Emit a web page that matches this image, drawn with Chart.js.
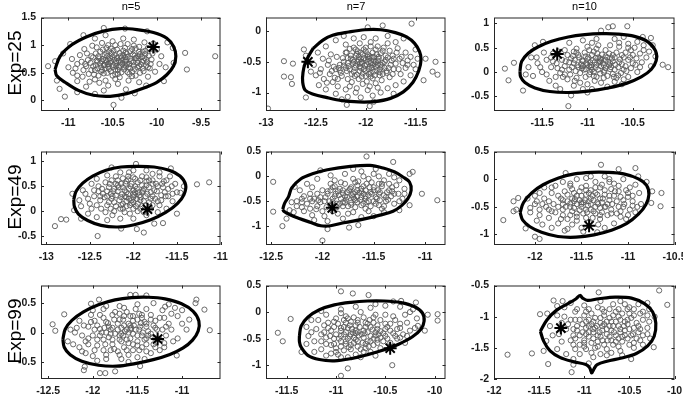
<!DOCTYPE html>
<html><head><meta charset="utf-8">
<script src="https://cdn.jsdelivr.net/npm/chart.js@4.4.1/dist/chart.umd.min.js"></script>
<style>
html,body{margin:0;padding:0;background:#fff;}
#wrap{position:relative;width:685px;height:394px;overflow:hidden;background:#fff;}
canvas{position:absolute;}
.title{position:absolute;font:11px 'Liberation Sans Narrow','Liberation Sans',Arial,sans-serif;color:#000;transform:translateX(-50%);white-space:nowrap;line-height:1;}
.rowlab{position:absolute;font:19px 'Liberation Sans',Arial,sans-serif;color:#000;white-space:nowrap;line-height:1;transform:translate(-50%,-50%) rotate(-90deg);}
</style></head><body><div id="wrap"></div>
<script>
const colTitles = ['n=5', 'n=7', 'n=10'];
const rowTitles = ['Exp=25', 'Exp=49', 'Exp=99'];

const xLimits = [[-11.31,-9.28],[-13,-11.2],[-12.03,-10.04],[-13.06,-11],[-12.55,-10.8],[-12.44,-10.5],[-12.58,-10.57],[-11.71,-9.89],[-12,-10]];
const yLimits = [[-0.19,1.5],[-1.3,0.22],[-0.8,1.12],[-0.68,1.2],[-1.38,0.5],[-1.19,0.5],[-0.79,0.8],[-1.26,0.5],[-2,-0.5]];
const xTicks = [[-11,-10.5,-10,-9.5],[-13,-12.5,-12,-11.5],[-11.5,-11,-10.5],[-13,-12.5,-12,-11.5,-11],[-12.5,-12,-11.5,-11],[-12,-11.5,-11,-10.5],[-12.5,-12,-11.5,-11],[-11.5,-11,-10.5,-10],[-12,-11.5,-11,-10.5,-10]];
const yTicks = [[0,0.5,1,1.5],[-1,-0.5,0],[-0.5,0,0.5,1],[-0.5,0,0.5,1],[-1,-0.5,0,0.5],[-1,-0.5,0,0.5],[-0.5,0,0.5],[-1,-0.5,0,0.5],[-2,-1.5,-1,-0.5]];

// ---- Exp=25, n=5 ----
const cloud_e25_n5 = [[-10.62,0.71],[-10.55,0.66],[-10.48,0.74],[-10.41,0.69],[-10.35,0.62],[-10.58,0.58],[-10.66,0.8],[-10.51,0.85],[-10.44,0.55],[-10.3,0.75],[-10.22,0.68],[-10.17,0.79],[-10.12,0.63],[-10.25,0.57],[-10.38,0.82],[-10.69,0.64],[-10.74,0.55],[-10.6,0.49],[-10.47,0.47],[-10.33,0.51],[-10.2,0.88],[-10.28,0.93],[-10.45,0.92],[-10.57,0.95],[-10.64,0.88],[-10.78,0.73],[-10.8,0.62],[-10.53,0.76],[-10.42,0.63],[-10.36,0.7],[-10.15,0.72],[-10.09,0.81],[-10.08,0.58],[-10.19,0.5],[-10.5,0.6],[-10.71,0.47],[-10.56,0.8],[-10.27,0.83],[-10.4,0.77],[-10.63,0.6],[-10.31,0.66],[-10.13,0.9],[-10.23,0.76],[-10.46,0.68],[-10.68,0.72],[-10.6,0.64],[-10.35,0.87],[-10.52,0.53],[-10.42,0.42],[-10.24,0.45],
[-10.9,0.66],[-10.95,0.5],[-10.87,0.82],[-10.84,0.43],[-10.9,0.35],[-10.76,0.34],[-10.65,0.32],[-10.55,0.27],[-10.44,0.3],[-10.32,0.36],[-10.2,0.33],[-10.1,0.43],[-10.02,0.52],[-9.97,0.66],[-9.95,0.8],[-10.0,0.92],[-10.04,1.03],[-10.14,1.05],[-10.26,1.1],[-10.38,1.12],[-10.5,1.07],[-10.62,1.04],[-10.73,0.99],[-10.82,0.93],[-10.96,0.75],[-11.0,0.6],[-10.7,1.12],[-10.58,1.18],[-10.33,1.02],[-10.47,1.0],[-10.8,0.25],[-10.35,0.2],[-10.6,0.18],[-10.12,0.27],[-9.9,0.6],
[-11.23,0.62],[-11.15,0.71],[-11.13,0.36],[-11.1,0.21],[-11.04,0.07],[-10.49,-0.08],[-9.68,0.86],[-9.66,0.56],[-9.34,0.8],[-9.81,0.68],[-10.6,1.31],[-10.36,1.3],[-10.11,1.25],[-10.83,1.18],[-9.88,1.05],[-10.9,0.15],[-10.7,0.12],[-10.25,0.13],[-9.92,0.35],[-11.06,0.85],[-10.98,1.02],[-10.4,0.05],[-9.82,0.95],
[-10.61,0.75],[-10.57,0.69],[-10.52,0.71],[-10.45,0.77],[-10.39,0.73],[-10.33,0.79],[-10.29,0.71],[-10.26,0.63],[-10.21,0.72],[-10.18,0.65],[-10.14,0.77],[-10.11,0.69],[-10.06,0.74],[-10.07,0.66],[-10.16,0.58],[-10.22,0.6],[-10.3,0.58],[-10.37,0.56],[-10.43,0.6],[-10.49,0.64],[-10.55,0.61],[-10.62,0.55],[-10.67,0.58],[-10.72,0.62],[-10.75,0.68],[-10.72,0.78],[-10.69,0.85],[-10.61,0.92],[-10.54,0.89],[-10.48,0.82],[-10.42,0.86],[-10.36,0.95],[-10.3,0.89],[-10.24,0.94],[-10.19,0.84],[-10.25,0.81],[-10.34,0.66],[-10.4,0.51],[-10.5,0.45],[-10.56,0.5],[-10.66,0.45],[-10.77,0.48],[-10.83,0.55],[-10.85,0.7],[-10.79,0.85],[-10.92,0.58],[-10.58,0.36],[-10.47,0.39],[-10.28,0.44],[-10.15,0.53],[-10.1,0.95],[-10.41,1.02],[-10.55,1.0],[-10.68,0.96],[-10.9,0.45],[-10.7,0.38],[-10.37,0.6],[-10.46,0.71],[-10.59,0.82],[-10.2,0.97],
[-10.58,0.73],[-10.53,0.68],[-10.5,0.79],[-10.46,0.62],[-10.43,0.72],[-10.39,0.66],[-10.36,0.78],[-10.32,0.6],[-10.27,0.69],[-10.24,0.77],[-10.2,0.62],[-10.17,0.7],[-10.13,0.84],[-10.1,0.6],[-10.12,0.74],[-10.21,0.8],[-10.28,0.52],[-10.34,0.84],[-10.41,0.8],[-10.47,0.56],[-10.54,0.57],[-10.59,0.64],[-10.64,0.67],[-10.65,0.76],[-10.57,0.85],[-10.49,0.9],[-10.44,0.48],[-10.38,0.9],[-10.31,0.48],[-10.16,0.88],[-10.7,0.55],[-10.74,0.8],[-10.81,0.66],[-10.63,0.52],[-10.52,0.94],[-10.26,0.99],[-10.05,0.85],[-10.35,0.73],[-10.55,0.74],[-10.67,0.7]];
const contour_e25_n5 = [[-11.151,0.565],[-11.094,0.8],[-10.962,1.006],[-10.792,1.153],[-10.604,1.253],[-10.415,1.3],[-10.226,1.282],[-10.038,1.229],[-9.887,1.124],[-9.811,0.976],[-9.785,0.8],[-9.811,0.624],[-9.887,0.465],[-10.0,0.329],[-10.151,0.224],[-10.34,0.124],[-10.528,0.076],[-10.717,0.094],[-10.887,0.182],[-11.038,0.329],[-11.132,0.447]];
const star_e25_n5 = [[-10.04,0.965]];

// ---- Exp=25, n=7 ----
const cloud_e25_n7 = [[-11.98,-0.5],[-12.05,-0.45],[-11.92,-0.42],[-11.88,-0.55],[-12.1,-0.56],[-12.02,-0.62],[-11.95,-0.68],[-12.15,-0.4],[-12.08,-0.33],[-11.85,-0.36],[-11.8,-0.47],[-11.77,-0.6],[-11.83,-0.7],[-12.0,-0.73],[-12.12,-0.66],[-12.18,-0.52],[-12.2,-0.6],[-11.9,-0.3],[-12.0,-0.27],[-11.96,-0.58],[-12.04,-0.53],[-11.86,-0.62],[-12.13,-0.47],[-11.93,-0.77],[-12.07,-0.78],[-11.73,-0.4],[-11.7,-0.53],[-12.23,-0.44],[-12.25,-0.68],[-11.9,-0.85],[-12.03,-0.38],[-11.82,-0.27],[-12.16,-0.29],[-11.76,-0.75],[-11.97,-0.45],[-12.09,-0.71],[-11.99,-0.82],[-12.14,-0.83],[-11.88,-0.48],[-12.06,-0.58],
[-12.3,-0.62],[-12.36,-0.7],[-12.42,-0.78],[-12.33,-0.83],[-12.28,-0.9],[-12.45,-0.62],[-12.5,-0.72],[-12.38,-0.55],[-12.47,-0.88],[-12.4,-0.95],[-12.31,-0.76],[-12.26,-0.55],[-12.52,-0.55],[-12.55,-0.66],[-12.43,-0.45],[-12.35,-0.38],[-12.48,-0.35],[-12.4,-0.25],
[-12.3,-0.15],[-12.22,-0.08],[-12.12,-0.12],[-12.02,-0.1],[-11.9,-0.12],[-11.78,-0.08],[-11.7,-0.18],[-11.62,-0.12],[-12.2,-0.22],[-11.95,-0.18],[-11.68,-0.28],[-12.06,-0.2],
[-11.6,-0.35],[-11.55,-0.42],[-11.52,-0.55],[-11.6,-0.6],[-11.65,-0.7],[-11.5,-0.3],[-11.58,-0.48],[-11.63,-0.52],[-11.48,-0.45],[-11.55,-0.72],[-11.62,-0.82],[-11.7,-0.88],[-11.66,-0.45],[-11.5,-0.62],
[-12.2,-0.95],[-12.1,-1.0],[-11.98,-0.96],[-11.85,-1.0],[-11.78,-0.93],[-12.3,-1.02],[-11.93,-1.05],[-12.05,-1.08],[-11.72,-1.02],[-12.18,-1.07],
[-12.98,-1.26],[-12.82,-0.49],[-12.73,-0.53],[-12.82,-0.74],[-12.75,-0.75],[-12.74,-0.86],[-12.6,-1.08],[-11.98,0.06],[-11.83,0.09],[-11.54,0.12],[-11.4,-0.45],[-11.3,-0.5],[-11.33,-0.66],[-11.28,-0.71],[-11.42,-0.8],[-12.19,-1.2],[-11.96,-1.22],[-11.92,-1.15],[-12.24,-1.11],[-12.62,-0.3],[-12.6,-0.4],
[-11.95,-0.52],[-12.0,-0.47],[-12.04,-0.5],[-11.92,-0.48],[-11.9,-0.58],[-11.97,-0.62],[-12.06,-0.65],[-12.11,-0.6],[-12.17,-0.57],[-12.15,-0.45],[-12.1,-0.4],[-12.05,-0.35],[-11.98,-0.38],[-11.93,-0.35],[-11.87,-0.42],[-11.83,-0.52],[-11.81,-0.6],[-11.86,-0.67],[-11.91,-0.72],[-12.03,-0.69],[-12.08,-0.5],[-12.01,-0.56],[-11.94,-0.43],[-11.89,-0.64],[-12.19,-0.65],[-12.22,-0.5],[-12.27,-0.6],[-12.24,-0.73],[-12.18,-0.78],[-12.11,-0.73],[-11.8,-0.4],[-11.76,-0.32],[-11.74,-0.48],[-11.72,-0.62],[-11.79,-0.68],[-12.02,-0.3],[-11.95,-0.25],[-12.12,-0.27],[-11.84,-0.8],[-12.03,-0.86],[-11.96,-0.9],[-12.16,-0.9],[-12.34,-0.65],[-12.37,-0.48],[-12.29,-0.42],[-11.69,-0.35],[-11.64,-0.42],[-11.67,-0.62],[-12.46,-0.68],[-12.39,-0.84],[-11.88,-0.92],[-12.2,-0.35],[-11.78,-0.2],[-12.09,-0.93],[-11.58,-0.55],[-11.93,-0.55],[-12.07,-0.42],[-11.85,-0.55],
[-11.99,-0.54],[-11.96,-0.41],[-12.02,-0.44],[-12.07,-0.47],[-11.91,-0.53],[-11.94,-0.6],[-12.0,-0.65],[-12.05,-0.6],[-12.13,-0.53],[-12.16,-0.62],[-11.87,-0.45],[-11.84,-0.58],[-11.89,-0.38],[-12.0,-0.33],[-12.09,-0.37],[-12.18,-0.44],[-11.81,-0.5],[-11.78,-0.43],[-11.75,-0.55],[-12.22,-0.56],[-12.14,-0.7],[-12.04,-0.74],[-11.95,-0.74],[-11.86,-0.72],[-11.79,-0.65],[-11.92,-0.66],[-12.1,-0.3],[-11.88,-0.25],[-12.26,-0.64],[-12.32,-0.58],[-11.72,-0.45],[-11.98,-0.42],[-12.06,-0.53],[-11.97,-0.7],[-12.19,-0.35],[-11.83,-0.32],[-12.28,-0.78],[-11.73,-0.7],[-12.12,-0.5],[-11.9,-0.5]];
const contour_e25_n7 = [[-12.526,-0.279],[-12.429,-0.147],[-12.332,-0.068],[-12.171,-0.016],[-12.01,0.021],[-11.848,0.021],[-11.703,-0.026],[-11.59,-0.095],[-11.51,-0.2],[-11.461,-0.332],[-11.445,-0.463],[-11.468,-0.647],[-11.526,-0.832],[-11.623,-0.989],[-11.752,-1.095],[-11.913,-1.147],[-12.074,-1.153],[-12.235,-1.132],[-12.397,-1.079],[-12.526,-1.026],[-12.606,-0.963],[-12.632,-0.832],[-12.629,-0.674],[-12.606,-0.516],[-12.565,-0.384]];
const star_e25_n7 = [[-12.58,-0.5]];

// ---- Exp=25, n=10 ----
const cloud_e25_n10 = [[-11.0,0.15],[-10.92,0.2],[-10.85,0.12],[-10.95,0.05],[-11.05,0.22],[-11.1,0.1],[-10.8,0.25],[-10.75,0.18],[-10.88,0.3],[-11.02,0.32],[-11.15,0.18],[-11.2,0.05],[-10.98,-0.05],[-10.9,-0.1],[-10.7,0.05],[-10.65,0.2],[-10.6,0.3],[-10.72,0.35],[-11.08,-0.02],[-11.18,0.28],[-11.25,0.12],[-10.82,0.0],[-10.78,-0.08],[-11.12,-0.12],[-11.03,0.4],[-10.93,0.42],[-10.68,0.4],[-10.55,0.25],[-10.58,0.12],[-10.63,-0.02],[-11.28,0.25],[-11.3,-0.02],[-11.22,-0.15],[-10.96,0.1],[-10.86,0.22],[-11.06,0.08],[-10.74,0.1],[-10.68,-0.12],[-10.5,0.35],[-10.52,0.08],
[-11.4,0.1],[-11.45,0.25],[-11.38,0.38],[-11.5,0.0],[-11.55,0.18],[-11.6,-0.08],[-11.42,-0.18],[-11.35,-0.28],[-11.15,-0.28],[-11.0,-0.25],[-10.85,-0.22],[-10.7,-0.2],[-10.55,-0.1],[-10.45,0.0],[-10.4,0.2],[-10.42,0.38],[-10.48,0.5],[-10.55,0.58],[-10.65,0.52],[-10.75,0.55],[-10.88,0.55],[-11.0,0.52],[-11.12,0.48],[-11.25,0.45],[-11.2,0.6],[-11.05,0.65],[-10.9,0.68],[-10.7,0.68],[-10.6,0.72],[-10.38,0.55],[-10.32,0.42],[-10.35,0.3],[-10.3,0.12],[-11.48,0.4],[-11.62,0.3],[-11.65,0.1],[-11.3,-0.35],[-11.05,-0.35],[-10.95,-0.35],[-10.62,-0.25],
[-11.91,0.07],[-11.87,-0.17],[-11.81,0.19],[-11.71,-0.38],[-11.18,-0.48],[-11.21,-0.7],[-10.77,0.92],[-10.72,0.94],[-10.56,0.94],[-10.85,0.85],[-10.39,0.72],[-10.3,0.7],[-10.17,0.15],[-10.11,0.1],[-11.58,0.55],[-11.49,0.62],[-11.68,-0.05],[-10.25,0.32],[-10.28,0.55],[-11.0,-0.42],
[-10.98,0.12],[-10.9,0.15],[-10.83,0.18],[-10.94,0.24],[-11.0,0.27],[-11.07,0.16],[-11.04,0.05],[-10.97,0.0],[-10.88,0.05],[-10.8,0.08],[-10.76,0.14],[-10.72,0.22],[-10.78,0.3],[-10.84,0.36],[-10.95,0.35],[-11.1,0.35],[-11.14,0.25],[-11.17,0.1],[-11.13,0.02],[-11.02,-0.1],[-10.92,-0.18],[-10.82,-0.12],[-10.72,-0.04],[-10.66,0.1],[-10.62,0.16],[-10.58,0.4],[-10.52,0.45],[-10.46,0.28],[-10.5,0.18],[-10.6,0.05],[-11.22,0.35],[-11.28,0.05],[-11.34,0.18],[-11.4,0.3],[-11.32,0.42],[-11.25,-0.05],[-11.35,-0.1],[-11.45,-0.05],[-11.52,0.1],[-11.56,0.3],[-10.9,0.48],[-10.8,0.45],[-10.65,0.6],[-10.45,0.62],[-10.42,0.1],[-10.38,0.45],[-11.08,-0.22],[-10.78,-0.3],[-10.6,-0.15],[-11.15,0.42],[-10.86,0.28],[-11.05,0.12],[-10.7,0.3],[-11.2,0.2],[-10.55,0.5],[-10.95,0.6],
[-11.01,0.18],[-10.96,0.14],[-10.91,0.09],[-10.87,0.2],[-10.82,0.14],[-10.77,0.21],[-10.73,0.28],[-10.81,0.03],[-10.86,-0.03],[-10.93,0.0],[-11.02,0.06],[-11.06,0.24],[-11.11,0.14],[-10.99,0.3],[-10.91,0.29],[-10.85,0.25],[-10.75,0.06],[-10.69,0.15],[-10.64,0.26],[-10.71,-0.1],[-10.97,0.2],[-11.09,0.3],[-11.16,0.33],[-11.24,0.22],[-11.19,-0.05],[-11.27,-0.1],[-10.76,0.38],[-10.62,0.35],[-10.53,0.3],[-10.47,0.15],[-10.57,0.02],[-10.66,-0.07],[-11.12,0.4],[-10.98,0.45],[-10.89,0.38],[-10.8,0.32],[-11.33,0.08],[-11.38,0.22],[-10.93,-0.08],[-11.14,-0.18]];
const contour_e25_n10 = [[-11.744,0.02],[-11.725,0.22],[-11.652,0.387],[-11.542,0.52],[-11.396,0.633],[-11.212,0.72],[-11.029,0.767],[-10.846,0.787],[-10.663,0.78],[-10.48,0.733],[-10.333,0.62],[-10.249,0.433],[-10.242,0.233],[-10.297,0.053],[-10.407,-0.1],[-10.571,-0.233],[-10.773,-0.327],[-10.993,-0.393],[-11.212,-0.42],[-11.414,-0.4],[-11.579,-0.327],[-11.689,-0.213],[-11.736,-0.1]];
const star_e25_n10 = [[-11.333,0.373]];

// ---- Exp=49, n=5 ----
const cloud_e49_n5 = [[-12.1,0.3],[-12.0,0.35],[-11.92,0.28],[-12.05,0.45],[-12.18,0.4],[-12.25,0.25],[-11.88,0.45],[-11.8,0.38],[-11.75,0.25],[-11.95,0.15],[-12.12,0.15],[-12.3,0.12],[-12.2,0.55],[-12.08,0.6],[-11.95,0.58],[-11.85,0.6],[-11.72,0.5],[-11.68,0.32],[-12.35,0.35],[-12.28,0.48],[-12.15,0.05],[-12.0,0.05],[-11.9,0.1],[-12.02,0.22],[-11.98,0.5],[-12.14,0.28],[-11.82,0.18],[-11.7,0.12],[-12.38,0.22],[-12.25,0.62],[-12.4,0.5],[-11.65,0.6],[-11.6,0.45],[-12.06,0.7],[-11.9,0.7],[-12.22,0.0],[-12.32,-0.02],[-11.78,0.62],[-12.45,0.3],[-12.04,-0.05],
[-12.5,0.15],[-12.55,0.35],[-12.48,0.55],[-12.6,0.1],[-12.52,-0.05],[-12.42,-0.12],[-12.3,-0.18],[-12.15,-0.15],[-12.0,-0.15],[-11.85,-0.08],[-11.72,-0.02],[-11.62,0.05],[-11.55,0.2],[-11.5,0.38],[-11.52,0.55],[-11.58,0.7],[-11.7,0.78],[-11.85,0.82],[-12.0,0.82],[-12.15,0.78],[-12.3,0.72],[-12.42,0.65],[-12.58,0.42],[-12.62,0.22],[-11.6,0.3],[-11.78,0.75],
[-12.9,-0.3],[-12.83,-0.16],[-12.77,-0.17],[-12.41,-0.5],[-11.88,-0.43],[-11.96,-0.36],[-11.27,0.54],[-11.13,0.58],[-11.46,0.37],[-11.57,0.86],[-11.97,0.95],[-12.7,0.35],[-12.68,0.02],[-11.66,-0.24],[-11.76,-0.25],[-12.14,-0.35],[-11.42,0.5],[-12.25,0.88],[-11.5,-0.05],[-12.6,-0.15],
[-12.08,0.38],[-12.0,0.42],[-11.94,0.38],[-12.12,0.48],[-12.2,0.32],[-12.16,0.22],[-12.08,0.2],[-12.0,0.28],[-11.92,0.22],[-11.86,0.3],[-11.82,0.48],[-11.9,0.52],[-12.02,0.55],[-12.14,0.55],[-12.22,0.45],[-12.3,0.4],[-12.33,0.28],[-12.28,0.18],[-12.2,0.1],[-12.08,0.1],[-11.97,0.1],[-11.86,0.12],[-11.78,0.3],[-11.76,0.42],[-11.74,0.55],[-11.85,0.68],[-11.98,0.65],[-12.12,0.66],[-12.32,0.58],[-12.36,0.45],[-12.45,0.42],[-12.42,0.12],[-12.1,-0.02],[-11.95,0.0],[-11.8,0.05],[-11.68,0.22],[-11.64,0.38],[-11.56,0.5],[-11.62,0.62],[-11.7,0.7],[-12.2,0.7],[-12.05,0.78],[-12.37,0.05],[-12.48,0.05],[-11.9,0.38],[-12.04,0.12],[-12.18,0.62],[-11.78,0.12],[-11.66,0.48],[-12.26,0.35],[-12.52,0.25],[-11.55,0.35],[-11.88,-0.02],[-12.24,-0.08],[-12.0,0.68],
[-12.06,0.34],[-11.99,0.32],[-12.1,0.42],[-12.03,0.5],[-11.96,0.45],[-11.89,0.41],[-11.84,0.35],[-11.8,0.25],[-11.88,0.2],[-11.96,0.25],[-12.05,0.25],[-12.13,0.34],[-12.17,0.48],[-12.23,0.4],[-12.24,0.3],[-12.22,0.18],[-12.14,0.12],[-12.02,0.16],[-11.93,0.32],[-11.85,0.52],[-11.78,0.55],[-11.73,0.4],[-11.72,0.2],[-12.09,0.55],[-12.18,0.52],[-12.27,0.55],[-12.3,0.3],[-12.06,0.64],[-11.92,0.62],[-11.82,0.62],[-12.0,0.18],[-11.92,0.05],[-12.12,0.05],[-12.26,0.05],[-12.38,0.3],[-12.4,0.4],[-11.67,0.55],[-11.63,0.3],[-11.98,0.38],[-12.08,0.28]];
const contour_e49_n5 = [[-12.684,0.237],[-12.657,0.4],[-12.581,0.563],[-12.467,0.706],[-12.314,0.824],[-12.143,0.889],[-11.952,0.902],[-11.762,0.889],[-11.59,0.824],[-11.465,0.706],[-11.4,0.53],[-11.419,0.335],[-11.495,0.152],[-11.629,-0.026],[-11.8,-0.174],[-11.99,-0.272],[-12.181,-0.318],[-12.371,-0.285],[-12.524,-0.187],[-12.63,-0.057],[-12.676,0.087]];
const star_e49_n5 = [[-11.838,0.04]];

// ---- Exp=49, n=7 ----
const cloud_e49_n7 = [[-11.7,-0.35],[-11.62,-0.3],[-11.78,-0.4],[-11.85,-0.3],[-11.55,-0.38],[-11.5,-0.28],[-11.68,-0.48],[-11.8,-0.52],[-11.9,-0.45],[-11.95,-0.35],[-11.6,-0.2],[-11.72,-0.22],[-11.45,-0.35],[-11.42,-0.2],[-11.88,-0.2],[-11.98,-0.5],[-12.02,-0.42],[-11.75,-0.6],[-11.62,-0.58],[-11.5,-0.5],[-11.38,-0.42],[-11.35,-0.28],[-11.82,-0.12],[-11.65,-0.1],[-11.52,-0.12],[-11.92,-0.58],[-12.05,-0.6],[-12.1,-0.5],[-11.58,-0.45],[-11.76,-0.32],[-11.66,-0.4],[-11.84,-0.38],[-11.44,-0.48],[-11.3,-0.35],[-11.28,-0.18],[-11.4,-0.08],[-12.0,-0.28],[-12.12,-0.35],[-11.7,-0.05],[-11.86,-0.62],
[-12.2,-0.45],[-12.25,-0.6],[-12.3,-0.52],[-12.18,-0.7],[-12.1,-0.78],[-11.98,-0.8],[-11.85,-0.75],[-11.7,-0.72],[-11.55,-0.7],[-11.42,-0.65],[-11.3,-0.55],[-11.22,-0.45],[-11.2,-0.25],[-11.25,-0.08],[-11.35,0.05],[-11.5,0.05],[-11.62,0.1],[-11.78,0.05],[-11.92,0.02],[-12.05,-0.05],[-12.15,-0.15],[-12.22,-0.28],[-12.32,-0.68],[-11.95,-0.9],[-11.8,-0.85],[-12.08,-0.88],[-11.62,-0.82],[-11.48,0.15],[-11.7,0.15],
[-12.48,-0.11],[-12.48,-0.71],[-12.39,-1.0],[-12.0,-1.29],[-11.57,0.4],[-11.31,0.29],[-11.15,0.05],[-11.12,0.09],[-11.03,-0.35],[-10.88,-0.48],[-11.15,-0.58],[-11.74,-1.03],[-11.65,-0.98],[-11.95,-1.06],[-12.02,0.12],[-12.27,-0.21],[-12.35,-0.85],[-11.25,-0.68],
[-11.68,-0.32],[-11.6,-0.35],[-11.53,-0.32],[-11.74,-0.28],[-11.8,-0.34],[-11.88,-0.4],[-11.93,-0.5],[-11.86,-0.55],[-11.77,-0.47],[-11.7,-0.42],[-11.63,-0.47],[-11.57,-0.52],[-11.48,-0.42],[-11.46,-0.28],[-11.54,-0.22],[-11.66,-0.18],[-11.78,-0.15],[-11.92,-0.28],[-12.05,-0.35],[-12.08,-0.45],[-12.15,-0.55],[-12.02,-0.52],[-11.96,-0.62],[-11.8,-0.6],[-11.68,-0.62],[-11.58,-0.65],[-11.45,-0.58],[-11.38,-0.5],[-11.33,-0.4],[-11.37,-0.32],[-11.42,-0.15],[-11.55,-0.05],[-11.32,-0.22],[-11.26,-0.35],[-11.25,-0.5],[-12.18,-0.4],[-12.25,-0.5],[-12.2,-0.62],[-12.28,-0.72],[-12.12,-0.65],[-11.88,-0.08],[-11.6,0.0],[-11.45,0.0],[-11.3,-0.02],[-11.75,-0.75],[-11.9,-0.7],[-12.0,-0.7],[-11.5,-0.8],[-11.92,-0.15],[-11.72,-0.53],[-11.83,-0.25],[-11.62,-0.25],[-12.1,-0.22],[-11.2,-0.35],[-11.4,-0.72],
[-11.71,-0.38],[-11.64,-0.33],[-11.58,-0.4],[-11.52,-0.35],[-11.47,-0.45],[-11.55,-0.5],[-11.62,-0.42],[-11.69,-0.45],[-11.76,-0.42],[-11.82,-0.45],[-11.87,-0.35],[-11.8,-0.28],[-11.73,-0.25],[-11.66,-0.28],[-11.58,-0.28],[-11.5,-0.22],[-11.44,-0.32],[-11.4,-0.38],[-11.36,-0.47],[-11.48,-0.55],[-11.6,-0.55],[-11.72,-0.57],[-11.83,-0.55],[-11.9,-0.52],[-11.97,-0.42],[-11.95,-0.3],[-11.9,-0.22],[-11.68,-0.12],[-11.57,-0.15],[-11.45,-0.15],[-11.35,-0.15],[-11.32,-0.3],[-12.04,-0.48],[-12.12,-0.45],[-12.2,-0.52],[-11.66,-0.52],[-11.78,-0.53],[-11.53,-0.6],[-12.06,-0.66],[-11.4,-0.6]];
const contour_e49_n7 = [[-12.386,-0.66],[-12.37,-0.547],[-12.331,-0.413],[-12.299,-0.233],[-12.209,-0.047],[-12.097,0.053],[-11.952,0.133],[-11.727,0.2],[-11.535,0.22],[-11.407,0.167],[-11.295,0.087],[-11.215,-0.013],[-11.151,-0.113],[-11.135,-0.28],[-11.167,-0.447],[-11.231,-0.593],[-11.311,-0.7],[-11.439,-0.78],[-11.6,-0.86],[-11.792,-0.933],[-11.92,-0.993],[-12.016,-0.993],[-12.113,-0.927],[-12.225,-0.847],[-12.321,-0.767],[-12.376,-0.7]];
const star_e49_n7 = [[-11.904,-0.633]];

// ---- Exp=49, n=10 ----
const cloud_e49_n10 = [[-11.5,-0.45],[-11.42,-0.4],[-11.35,-0.5],[-11.58,-0.52],[-11.65,-0.4],[-11.3,-0.35],[-11.22,-0.45],[-11.15,-0.3],[-11.45,-0.28],[-11.55,-0.3],[-11.7,-0.55],[-11.62,-0.65],[-11.48,-0.62],[-11.38,-0.7],[-11.28,-0.6],[-11.1,-0.5],[-11.05,-0.38],[-11.0,-0.25],[-11.18,-0.18],[-11.3,-0.15],[-11.45,-0.12],[-11.6,-0.18],[-11.75,-0.3],[-11.8,-0.45],[-11.78,-0.6],[-11.88,-0.5],[-11.9,-0.35],[-11.52,-0.38],[-11.4,-0.55],[-11.25,-0.28],[-11.12,-0.62],[-10.98,-0.55],[-10.95,-0.4],[-11.68,-0.22],[-11.35,-0.05],[-11.2,-0.05],[-11.85,-0.7],[-11.72,-0.72],[-11.55,-0.75],[-11.32,-0.82],
[-12.0,-0.45],[-12.05,-0.6],[-11.98,-0.75],[-11.95,-0.25],[-11.82,-0.15],[-11.7,-0.05],[-11.55,0.0],[-11.4,0.05],[-11.25,0.05],[-11.05,0.0],[-10.92,-0.1],[-10.88,-0.25],[-10.86,-0.45],[-10.92,-0.6],[-11.02,-0.72],[-11.15,-0.8],[-11.5,-0.88],[-11.65,-0.9],[-11.82,-0.88],[-11.92,-0.82],[-12.08,-0.35],[-11.1,-0.12],[-11.48,-0.95],[-11.25,-0.88],
[-12.34,-0.74],[-12.23,-0.58],[-12.23,-0.4],[-12.18,-0.34],[-12.1,-0.89],[-12.0,-1.04],[-11.95,-1.08],[-11.29,0.26],[-10.92,0.2],[-10.89,0.05],[-10.74,-0.22],[-10.64,-0.25],[-10.65,-0.49],[-10.75,-0.43],[-11.67,0.11],[-11.33,-0.96],[-11.68,-0.93],[-12.2,-0.55],[-10.8,-0.05],[-11.1,0.18],
[-11.48,-0.42],[-11.4,-0.45],[-11.33,-0.42],[-11.55,-0.45],[-11.6,-0.35],[-11.52,-0.22],[-11.38,-0.3],[-11.28,-0.42],[-11.2,-0.38],[-11.12,-0.4],[-11.18,-0.55],[-11.3,-0.52],[-11.45,-0.55],[-11.62,-0.5],[-11.7,-0.45],[-11.72,-0.35],[-11.65,-0.28],[-11.5,-0.15],[-11.4,-0.2],[-11.25,-0.2],[-11.1,-0.22],[-11.0,-0.32],[-11.05,-0.5],[-11.22,-0.65],[-11.35,-0.62],[-11.55,-0.62],[-11.65,-0.72],[-11.82,-0.58],[-11.85,-0.4],[-11.82,-0.25],[-11.95,-0.55],[-11.98,-0.4],[-12.05,-0.52],[-11.6,-0.82],[-11.42,-0.78],[-11.08,-0.68],[-10.95,-0.3],[-10.98,-0.15],[-11.15,-0.08],[-11.62,-0.08],[-11.78,-0.12],[-11.9,-0.15],[-12.0,-0.3],[-11.3,-0.72],[-10.9,-0.5],[-11.5,-0.5],[-11.25,-0.5],[-11.4,-0.35],[-11.75,-0.8],[-11.2,0.0],[-11.45,0.02],[-11.0,-0.65],[-11.58,-0.4],[-11.35,-0.25],
[-11.46,-0.38],[-11.43,-0.48],[-11.37,-0.38],[-11.32,-0.45],[-11.27,-0.35],[-11.24,-0.5],[-11.17,-0.45],[-11.2,-0.3],[-11.33,-0.28],[-11.42,-0.25],[-11.5,-0.3],[-11.57,-0.36],[-11.62,-0.44],[-11.67,-0.5],[-11.6,-0.58],[-11.52,-0.56],[-11.44,-0.6],[-11.37,-0.58],[-11.3,-0.65],[-11.18,-0.62],[-11.08,-0.58],[-11.04,-0.45],[-11.08,-0.32],[-11.14,-0.22],[-11.28,-0.1],[-11.45,-0.2],[-11.58,-0.25],[-11.7,-0.38],[-11.75,-0.5],[-11.7,-0.65],[-11.55,-0.68],[-11.45,-0.7],[-11.92,-0.45],[-11.85,-0.55],[-11.95,-0.65],[-11.62,-0.12],[-11.02,-0.2],[-10.95,-0.48],[-11.35,-0.15],[-11.5,-0.42]];
const contour_e49_n10 = [[-12.159,-0.605],[-12.124,-0.427],[-12.035,-0.249],[-11.912,-0.101],[-11.753,0.018],[-11.576,0.095],[-11.4,0.124],[-11.223,0.124],[-11.047,0.095],[-10.888,0.006],[-10.8,-0.113],[-10.775,-0.279],[-10.807,-0.456],[-10.888,-0.634],[-11.012,-0.8],[-11.17,-0.919],[-11.365,-1.008],[-11.559,-1.049],[-11.753,-1.037],[-11.929,-0.96],[-12.053,-0.86],[-12.131,-0.741]];
const star_e49_n10 = [[-11.418,-0.842]];

// ---- Exp=99, n=5 ----
const cloud_e99_n5 = [[-11.6,0.0],[-11.52,0.05],[-11.45,-0.05],[-11.68,0.08],[-11.75,-0.02],[-11.82,0.1],[-11.9,0.0],[-11.62,-0.12],[-11.5,-0.15],[-11.38,0.02],[-11.32,0.12],[-11.42,0.18],[-11.55,0.2],[-11.7,0.22],[-11.85,0.18],[-11.95,0.12],[-12.0,-0.05],[-11.88,-0.12],[-11.78,-0.2],[-11.65,-0.25],[-11.55,-0.3],[-11.4,-0.2],[-11.3,-0.1],[-11.22,0.05],[-11.25,0.25],[-11.35,0.3],[-11.48,0.32],[-11.62,0.35],[-11.78,0.3],[-12.05,0.1],[-12.08,-0.15],[-11.95,-0.22],[-11.72,-0.32],[-11.58,0.12],[-11.66,-0.05],[-11.8,0.05],[-11.47,0.1],[-11.15,0.15],[-11.12,0.32],[-11.18,-0.05],
[-12.15,0.2],[-12.2,0.0],[-12.22,-0.2],[-12.12,-0.32],[-12.0,-0.4],[-11.85,-0.45],[-11.68,-0.45],[-11.5,-0.42],[-11.35,-0.35],[-11.2,-0.25],[-11.05,-0.1],[-10.95,0.05],[-10.92,0.22],[-11.0,0.38],[-11.15,0.48],[-11.32,0.5],[-11.5,0.48],[-11.7,0.45],[-11.88,0.4],[-12.02,0.3],[-11.95,-0.48],[-11.6,-0.5],[-11.08,0.42],[-11.42,-0.45],
[-12.45,0.14],[-12.42,0.03],[-12.32,0.31],[-12.02,0.49],[-11.93,0.56],[-11.58,0.64],[-11.52,0.64],[-11.4,0.63],[-11.19,0.44],[-10.84,0.56],[-10.75,0.39],[-10.69,0.04],[-11.06,-0.39],[-11.92,-0.69],[-11.86,-0.69],[-11.75,-0.66],[-12.1,-0.64],[-12.09,-0.58],[-11.47,-0.57],[-12.28,-0.15],[-10.85,0.5],
[-11.62,0.05],[-11.55,-0.02],[-11.48,0.05],[-11.7,-0.05],[-11.78,0.08],[-11.72,0.15],[-11.6,0.15],[-11.5,0.22],[-11.4,0.1],[-11.35,-0.02],[-11.42,-0.12],[-11.55,-0.2],[-11.68,-0.15],[-11.82,-0.08],[-11.92,0.06],[-11.88,0.25],[-11.75,0.35],[-11.58,0.28],[-11.45,0.25],[-11.3,0.2],[-11.28,0.05],[-11.32,-0.2],[-11.48,-0.3],[-11.6,-0.38],[-11.8,-0.3],[-11.98,-0.3],[-12.05,-0.2],[-12.12,-0.05],[-12.1,0.12],[-11.98,0.2],[-12.0,0.38],[-11.85,0.45],[-11.65,0.42],[-11.4,0.4],[-11.22,0.38],[-11.2,0.25],[-11.12,0.05],[-11.1,-0.15],[-11.25,-0.3],[-11.4,-0.32],[-12.15,-0.25],[-12.18,0.08],[-12.25,0.05],[-11.7,-0.38],[-11.85,-0.38],[-11.05,0.28],[-11.0,0.15],[-11.52,0.4],[-11.65,0.28],[-11.58,-0.1],[-11.38,-0.05],[-11.85,0.0],[-11.95,-0.12],[-11.25,-0.12],[-12.08,-0.35],
[-11.64,0.02],[-11.57,0.08],[-11.5,-0.05],[-11.44,0.0],[-11.4,0.15],[-11.46,0.16],[-11.54,0.12],[-11.65,0.12],[-11.72,0.05],[-11.8,-0.02],[-11.87,0.08],[-11.83,0.16],[-11.76,0.22],[-11.66,0.22],[-11.55,0.28],[-11.45,0.3],[-11.35,0.22],[-11.3,0.08],[-11.33,-0.08],[-11.4,-0.1],[-11.5,-0.22],[-11.6,-0.18],[-11.7,-0.12],[-11.78,-0.12],[-11.86,-0.2],[-11.92,-0.05],[-11.98,0.05],[-12.02,0.18],[-11.92,0.3],[-11.7,0.32],[-11.62,-0.3],[-11.76,-0.28],[-11.88,-0.3],[-11.45,-0.25],[-11.3,-0.25],[-11.18,0.1],[-11.2,-0.18],[-12.05,-0.1],[-11.58,0.05],[-11.68,-0.02]];
const contour_e99_n5 = [[-12.335,-0.111],[-12.309,0.056],[-12.234,0.206],[-12.104,0.35],[-11.937,0.472],[-11.751,0.556],[-11.565,0.594],[-11.378,0.6],[-11.192,0.572],[-11.006,0.489],[-10.876,0.361],[-10.812,0.194],[-10.82,0.028],[-10.883,-0.128],[-10.988,-0.261],[-11.137,-0.372],[-11.323,-0.461],[-11.527,-0.528],[-11.732,-0.572],[-11.937,-0.556],[-12.123,-0.489],[-12.253,-0.378],[-12.32,-0.25]];
const star_e99_n5 = [[-11.274,-0.111]];

// ---- Exp=99, n=7 ----
const cloud_e99_n7 = [[-10.8,-0.4],[-10.72,-0.35],[-10.88,-0.3],[-10.95,-0.45],[-10.65,-0.45],[-10.58,-0.32],[-10.78,-0.55],[-10.9,-0.6],[-11.02,-0.5],[-11.05,-0.35],[-10.98,-0.22],[-10.85,-0.18],[-10.7,-0.2],[-10.55,-0.15],[-10.48,-0.28],[-10.42,-0.4],[-10.52,-0.55],[-10.62,-0.62],[-10.75,-0.7],[-10.92,-0.72],[-11.1,-0.6],[-11.15,-0.42],[-11.12,-0.25],[-10.68,-0.55],[-10.82,-0.48],[-10.6,-0.38],[-10.72,-0.1],[-10.9,-0.08],[-10.4,-0.15],[-10.35,-0.3],[-10.3,-0.05],[-10.5,-0.05],[-11.0,-0.12],[-10.95,-0.35],[-10.76,-0.28],[-10.85,-0.62],[-10.55,-0.48],[-10.38,-0.5],[-11.2,-0.32],[-11.05,-0.78],
[-11.28,-0.45],[-11.3,-0.6],[-11.22,-0.75],[-11.1,-0.82],[-10.95,-0.85],[-10.8,-0.8],[-10.65,-0.75],[-10.28,-0.45],[-10.2,-0.3],[-10.18,-0.12],[-10.22,0.05],[-10.35,0.1],[-10.5,0.12],[-10.65,0.08],[-10.8,0.1],[-10.95,0.05],[-11.1,-0.05],[-11.25,-0.15],[-11.3,-0.28],[-10.45,-0.65],[-10.3,-0.58],[-11.15,0.02],[-10.6,0.15],
[-11.59,-0.39],[-11.54,-0.55],[-11.46,-0.13],[-10.95,0.39],[-10.83,0.35],[-10.67,0.32],[-10.19,0.18],[-10.07,-0.05],[-9.97,-0.04],[-9.97,-0.16],[-10.88,-1.06],[-10.95,-1.2],[-10.43,-1.0],[-10.34,0.21],[-10.17,-0.26],[-11.35,-0.75],[-10.1,-0.35],[-10.42,0.2],
[-10.8,-0.35],[-10.74,-0.42],[-10.85,-0.42],[-10.9,-0.38],[-10.68,-0.38],[-10.62,-0.5],[-10.7,-0.6],[-10.82,-0.58],[-10.95,-0.55],[-11.0,-0.42],[-10.92,-0.28],[-10.8,-0.25],[-10.65,-0.28],[-10.52,-0.4],[-10.48,-0.5],[-10.58,-0.58],[-10.72,-0.48],[-10.88,-0.5],[-11.05,-0.62],[-11.1,-0.48],[-11.08,-0.3],[-11.02,-0.18],[-10.88,-0.12],[-10.78,-0.15],[-10.62,-0.2],[-10.45,-0.22],[-10.38,-0.32],[-10.32,-0.42],[-10.45,-0.58],[-10.55,-0.68],[-10.7,-0.68],[-10.85,-0.7],[-11.0,-0.68],[-11.15,-0.7],[-11.22,-0.55],[-11.25,-0.38],[-11.18,-0.15],[-10.95,-0.02],[-10.75,0.0],[-10.6,-0.05],[-10.42,-0.08],[-10.28,-0.2],[-10.25,-0.35],[-10.35,-0.48],[-10.98,-0.8],[-10.88,-0.85],[-10.75,-0.85],[-10.6,-0.82],[-10.78,-0.38],[-10.66,-0.15],[-10.5,-0.32],[-11.12,-0.38],[-10.9,-0.2],[-10.57,-0.42],[-10.25,0.0],
[-10.83,-0.38],[-10.77,-0.44],[-10.71,-0.4],[-10.86,-0.46],[-10.92,-0.42],[-10.97,-0.5],[-10.9,-0.55],[-10.8,-0.52],[-10.73,-0.58],[-10.65,-0.55],[-10.6,-0.44],[-10.55,-0.36],[-10.63,-0.33],[-10.7,-0.28],[-10.78,-0.2],[-10.86,-0.25],[-10.95,-0.3],[-11.02,-0.28],[-11.06,-0.45],[-11.02,-0.6],[-10.95,-0.65],[-10.87,-0.66],[-10.78,-0.65],[-10.67,-0.65],[-10.58,-0.52],[-10.5,-0.45],[-10.45,-0.35],[-10.5,-0.22],[-10.58,-0.25],[-10.68,-0.22],[-10.82,-0.1],[-10.92,-0.15],[-11.08,-0.2],[-11.15,-0.55],[-10.4,-0.45],[-10.35,-0.22],[-10.62,-0.1],[-11.0,-0.75],[-10.72,-0.75],[-10.84,-0.32]];
const contour_e99_n7 = [[-11.371,-0.447],[-11.354,-0.263],[-11.286,-0.098],[-11.169,0.043],[-11.017,0.135],[-10.848,0.184],[-10.68,0.208],[-10.511,0.208],[-10.343,0.178],[-10.208,0.104],[-10.124,-0.018],[-10.107,-0.171],[-10.14,-0.325],[-10.225,-0.465],[-10.36,-0.6],[-10.511,-0.71],[-10.68,-0.802],[-10.848,-0.876],[-11.017,-0.918],[-11.169,-0.894],[-11.286,-0.814],[-11.354,-0.661],[-11.371,-0.557]];
const star_e99_n7 = [[-10.451,-0.68]];

// ---- Exp=99, n=10 ----
const cloud_e99_n10 = [[-10.9,-1.2],[-10.82,-1.1],[-10.95,-1.05],[-11.02,-1.25],[-10.75,-1.28],[-10.68,-1.15],[-10.6,-1.05],[-10.55,-1.22],[-10.48,-1.3],[-10.7,-1.38],[-10.85,-1.4],[-11.0,-1.38],[-11.08,-1.15],[-11.12,-1.3],[-10.92,-0.95],[-10.78,-0.92],[-10.62,-0.88],[-10.5,-0.95],[-10.42,-1.1],[-10.4,-1.25],[-10.35,-1.05],[-10.3,-1.18],[-10.58,-1.4],[-10.88,-1.5],[-10.98,-1.52],[-11.05,-1.45],[-10.72,-1.02],[-10.65,-1.3],[-10.45,-0.88],[-10.38,-0.95],[-11.15,-1.05],[-11.1,-0.92],[-10.8,-1.22],[-10.52,-1.12],[-10.95,-1.32],[-10.85,-0.85],[-11.05,-1.6],[-10.75,-1.52],[-10.68,-0.8],[-10.55,-0.8],
[-11.2,-1.2],[-11.25,-1.4],[-11.3,-1.52],[-11.2,-1.6],[-11.3,-0.98],[-11.22,-0.85],[-11.0,-0.82],[-10.28,-0.88],[-10.27,-1.35],[-10.35,-1.45],[-10.45,-1.5],[-10.6,-1.55],[-10.75,-1.62],[-10.9,-1.65],[-10.95,-1.75],[-11.12,-1.68],[-11.35,-1.3],[-11.38,-1.15],[-10.3,-0.78],[-11.15,-0.78],[-10.82,-0.75],[-10.58,-1.62],
[-11.85,-1.61],[-11.58,-1.59],[-11.49,-0.96],[-11.41,-0.95],[-11.3,-0.83],[-11.34,-0.74],[-11.24,-0.75],[-11.42,-1.39],[-11.4,-1.76],[-11.14,-1.89],[-11.12,-1.77],[-10.84,-0.61],[-10.17,-0.58],[-10.08,-0.81],[-10.23,-1.49],[-10.48,-1.68],[-11.45,-1.55],[-10.22,-1.0],
[-10.88,-1.18],[-10.8,-1.15],[-10.92,-1.12],[-10.98,-1.18],[-10.95,-1.25],[-10.85,-1.3],[-10.75,-1.2],[-10.7,-1.22],[-10.62,-1.15],[-10.55,-1.08],[-10.6,-1.25],[-10.65,-1.4],[-10.78,-1.45],[-10.92,-1.42],[-11.05,-1.3],[-11.08,-1.22],[-11.05,-1.05],[-11.0,-0.98],[-10.88,-1.02],[-10.75,-1.08],[-10.68,-0.98],[-10.58,-0.95],[-10.48,-1.02],[-10.45,-1.18],[-10.42,-1.35],[-10.52,-1.35],[-10.5,-1.45],[-10.82,-1.6],[-10.92,-1.58],[-11.0,-1.48],[-11.15,-1.38],[-11.18,-1.12],[-11.22,-1.0],[-11.08,-0.88],[-10.95,-0.88],[-10.72,-0.88],[-10.6,-0.75],[-10.4,-0.8],[-10.35,-0.92],[-10.28,-1.08],[-10.3,-1.28],[-10.38,-1.38],[-10.62,-1.48],[-10.7,-1.58],[-11.1,-1.52],[-11.28,-1.28],[-11.25,-1.1],[-10.82,-1.32],[-10.65,-1.08],[-10.98,-1.08],[-10.52,-0.88],[-10.78,-0.98],[-11.12,-1.45],[-10.58,-1.32],
[-10.86,-1.15],[-10.9,-1.25],[-10.83,-1.25],[-10.78,-1.12],[-10.72,-1.15],[-10.67,-1.25],[-10.6,-1.2],[-10.56,-1.15],[-10.5,-1.2],[-10.46,-1.28],[-10.55,-1.3],[-10.62,-1.35],[-10.72,-1.32],[-10.8,-1.38],[-10.9,-1.35],[-10.98,-1.28],[-11.02,-1.12],[-10.95,-1.15],[-10.9,-1.08],[-10.82,-1.02],[-10.7,-1.08],[-10.62,-1.0],[-10.52,-1.05],[-10.45,-0.98],[-10.4,-1.15],[-10.35,-1.3],[-10.45,-1.42],[-10.68,-1.45],[-10.85,-1.48],[-11.0,-1.42],[-11.1,-1.35],[-11.12,-1.2],[-11.1,-1.05],[-10.98,-0.92],[-10.8,-0.88],[-10.65,-0.92],[-10.5,-0.85],[-10.3,-0.98],[-10.38,-1.2],[-10.74,-1.38]];
const contour_e99_n10 = [[-11.486,-1.235],[-11.414,-1.052],[-11.306,-0.895],[-11.18,-0.791],[-11.09,-0.712],[-11.047,-0.66],[-11.018,-0.702],[-10.964,-0.739],[-10.838,-0.712],[-10.658,-0.686],[-10.477,-0.702],[-10.333,-0.791],[-10.243,-0.922],[-10.207,-1.105],[-10.225,-1.314],[-10.297,-1.47],[-10.423,-1.591],[-10.586,-1.664],[-10.748,-1.716],[-10.856,-1.768],[-10.892,-1.836],[-10.917,-1.904],[-10.939,-1.821],[-10.982,-1.768],[-11.126,-1.721],[-11.27,-1.653],[-11.378,-1.549],[-11.45,-1.392]];
const star_e99_n10 = [[-11.259,-1.183]];

const clouds = [cloud_e25_n5, cloud_e25_n7, cloud_e25_n10, cloud_e49_n5, cloud_e49_n7, cloud_e49_n10, cloud_e99_n5, cloud_e99_n7, cloud_e99_n10];
const contours = [contour_e25_n5, contour_e25_n7, contour_e25_n10, contour_e49_n5, contour_e49_n7, contour_e49_n10, contour_e99_n5, contour_e99_n7, contour_e99_n10];
const stars = [star_e25_n5, star_e25_n7, star_e25_n10, star_e49_n5, star_e49_n7, star_e49_n10, star_e99_n5, star_e99_n7, star_e99_n10];

// layout (pixel boxes of each axes)
const colLeft = [41, 266, 494], colRight = [221, 446, 675];
const rowTop = [15, 149, 283], rowBottom = [111, 245, 379];
const ML = 40, MT = 6, MR = 8, MB = 24;
const tickFont = {family: "'Liberation Sans Narrow','Liberation Sans',Arial,sans-serif", size: 10.5, weight: 'bold'};

const boxPlugin = {
  id: 'matlabBox',
  afterDatasetsDraw(chart) {
    const {ctx, chartArea: a, scales} = chart;
    const xs = scales.x, ys = scales.y;
    ctx.save();
    ctx.strokeStyle = '#262626';
    ctx.lineWidth = 1;
    ctx.strokeRect(a.left + 0.5, a.top + 0.5, a.right - a.left - 1, a.bottom - a.top - 1);
    ctx.beginPath();
    const tl = 3;
    xs.ticks.forEach(t => {
      const p = Math.round(xs.getPixelForValue(t.value)) + 0.5;
      ctx.moveTo(p, a.bottom); ctx.lineTo(p, a.bottom - tl);
      ctx.moveTo(p, a.top); ctx.lineTo(p, a.top + tl);
    });
    ys.ticks.forEach(t => {
      const p = Math.round(ys.getPixelForValue(t.value)) + 0.5;
      ctx.moveTo(a.left, p); ctx.lineTo(a.left + tl, p);
      ctx.moveTo(a.right, p); ctx.lineTo(a.right - tl, p);
    });
    ctx.stroke();
    ctx.restore();
  }
};

const toXY = arr => arr.map(p => ({x: p[0], y: p[1]}));
const wrap = document.getElementById('wrap');

for (let r = 0; r < 3; r++) {
  for (let c = 0; c < 3; c++) {
    const i = r * 3 + c;
    const l = colLeft[c], rr = colRight[c], t = rowTop[r], b = rowBottom[r];
    const cv = document.createElement('canvas');
    const w = (rr - l) + ML + MR, h = (b - t) + MT + MB;
    cv.width = w; cv.height = h;
    cv.style.left = (l - ML) + 'px'; cv.style.top = (t - MT) + 'px';
    cv.style.width = w + 'px'; cv.style.height = h + 'px';
    wrap.appendChild(cv);
    const closed = contours[i].concat([contours[i][0]]);
    new Chart(cv, {
      type: 'scatter',
      data: {
        datasets: [
          {label: 'star', data: toXY(stars[i]), pointStyle: 'star', pointRadius: 6.5, pointBorderWidth: 2, pointBorderColor: '#000', pointBackgroundColor: '#000', showLine: false},
          {label: 'contour', data: toXY(closed), showLine: true, pointRadius: 0, borderColor: '#000', borderWidth: 3.2, tension: 0.35, fill: false},
          {label: 'samples', data: toXY(clouds[i]), pointStyle: 'circle', pointRadius: 2.6, pointBorderWidth: 0.9, pointBorderColor: '#5a5a5a', pointBackgroundColor: 'rgba(0,0,0,0)', showLine: false}
        ]
      },
      options: {
        responsive: false, animation: false, devicePixelRatio: 1,
        layout: {padding: {left: 0, top: MT, right: MR, bottom: 0}},
        plugins: {legend: {display: false}, tooltip: {enabled: false}},
        events: [],
        scales: {
          x: {
            type: 'linear', min: xLimits[i][0], max: xLimits[i][1],
            grid: {display: false, drawTicks: false}, border: {display: false},
            afterBuildTicks: s => { s.ticks = xTicks[i].map(v => ({value: v})); },
            afterFit: s => { s.height = MB; s.paddingLeft = 0; s.paddingRight = 0; },
            ticks: {font: tickFont, color: '#1a1a1a', padding: 6, maxRotation: 0, minRotation: 0, autoSkip: false,
              callback: v => String(Math.round(v * 100) / 100)}
          },
          y: {
            type: 'linear', min: yLimits[i][0], max: yLimits[i][1],
            grid: {display: false, drawTicks: false}, border: {display: false},
            afterBuildTicks: s => { s.ticks = yTicks[i].map(v => ({value: v})); },
            afterFit: s => { s.width = ML; s.paddingTop = 0; s.paddingBottom = 0; },
            ticks: {font: tickFont, color: '#1a1a1a', padding: 5, autoSkip: false,
              callback: v => String(Math.round(v * 100) / 100)}
          }
        }
      },
      plugins: [boxPlugin]
    });
  }
}

colTitles.forEach((txt, c) => {
  const d = document.createElement('div');
  d.className = 'title'; d.textContent = txt;
  d.style.left = ((colLeft[c] + colRight[c]) / 2) + 'px'; d.style.top = '1px';
  wrap.appendChild(d);
});
rowTitles.forEach((txt, r) => {
  const d = document.createElement('div');
  d.className = 'rowlab'; d.textContent = txt;
  d.style.left = '14px'; d.style.top = ((rowTop[r] + rowBottom[r]) / 2) + 'px';
  wrap.appendChild(d);
});
</script></body></html>
